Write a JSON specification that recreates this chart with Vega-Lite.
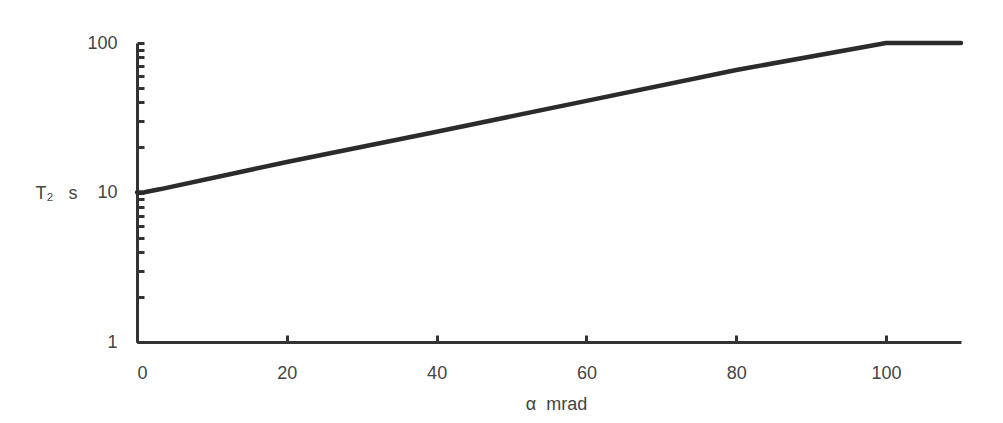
{
  "$schema": "https://vega.github.io/schema/vega-lite/v6.json",
  "autosize": "none",
  "width": 824,
  "height": 299,
  "padding": {"left": 137, "top": 43, "right": 42, "bottom": 81},
  "background": "white",
  "config": {
    "view": {"stroke": null},
    "font": "Liberation Sans",
    "axis": {
      "grid": false,
      "domainColor": "#333333",
      "domainWidth": 3,
      "tickColor": "#333333",
      "tickWidth": 3,
      "labelFont": "Liberation Sans",
      "labelFontSize": 18,
      "labelColor": "#444444",
      "titleFont": "Liberation Sans",
      "titleFontSize": 18,
      "titleFontWeight": "normal",
      "titleColor": "#444444"
    }
  },
  "data": {
    "values": [
      {"alpha": 0, "T2": 10},
      {"alpha": 1, "T2": 10.05},
      {"alpha": 3, "T2": 10.5},
      {"alpha": 20, "T2": 16},
      {"alpha": 40, "T2": 25.5},
      {"alpha": 60, "T2": 41},
      {"alpha": 80, "T2": 66},
      {"alpha": 100, "T2": 100},
      {"alpha": 110, "T2": 100}
    ]
  },
  "mark": {"type": "line", "color": "#2b2b2b", "strokeWidth": 4.5, "strokeCap": "round", "clip": false},
  "encoding": {
    "x": {
      "field": "alpha",
      "type": "quantitative",
      "scale": {"domain": [0, 110], "nice": false, "zero": false},
      "axis": {
        "values": [0, 20, 40, 60, 80, 100],
        "tickSize": -7,
        "labelPadding": 38,
        "labelBaseline": "middle",
        "title": "α\u00a0\u00a0mrad",
        "titleX": 419,
        "titleY": 62,
        "titleBaseline": "middle"
      }
    },
    "y": {
      "field": "T2",
      "type": "quantitative",
      "scale": {"type": "log", "domain": [1, 100], "nice": false},
      "axis": {
        "values": [1, 2, 3, 4, 5, 6, 7, 8, 9, 10, 20, 30, 40, 50, 60, 70, 80, 90, 100],
        "tickSize": -7,
        "labelPadding": 27,
        "labelExpr": "datum.value == 1 || datum.value == 10 || datum.value == 100 ? format(datum.value, 'd') : ''",
        "labelBaseline": "middle",
        "title": "T₂\u00a0\u00a0\u00a0s",
        "titleAngle": 0,
        "titleX": -81,
        "titleY": 150,
        "titleAlign": "center",
        "titleBaseline": "middle"
      }
    }
  }
}
